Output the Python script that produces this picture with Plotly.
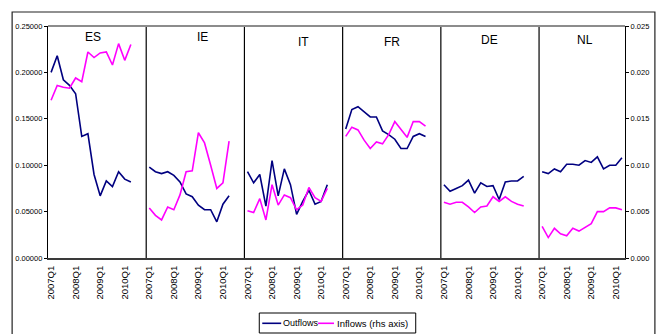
import plotly.graph_objects as go

# Quarterly series, 2007Q1 - 2010Q2
quarters = ["2007Q1", "2007Q2", "2007Q3", "2007Q4",
            "2008Q1", "2008Q2", "2008Q3", "2008Q4",
            "2009Q1", "2009Q2", "2009Q3", "2009Q4",
            "2010Q1", "2010Q2"]

countries = ["ES", "IE", "IT", "FR", "DE", "NL"]

# Outflows (left axis)
outflows_es = [0.200, 0.218, 0.192, 0.186, 0.177, 0.131, 0.134, 0.090, 0.067, 0.083, 0.077, 0.093, 0.085, 0.082]
outflows_ie = [0.098, 0.093, 0.091, 0.093, 0.089, 0.082, 0.069, 0.066, 0.057, 0.052, 0.052, 0.039, 0.058, 0.067]
outflows_it = [0.093, 0.081, 0.090, 0.056, 0.105, 0.067, 0.096, 0.079, 0.047, 0.061, 0.073, 0.058, 0.061, 0.079]
outflows_fr = [0.139, 0.160, 0.163, 0.157, 0.152, 0.152, 0.137, 0.133, 0.128, 0.118, 0.118, 0.131, 0.134, 0.131]
outflows_de = [0.079, 0.072, 0.075, 0.078, 0.084, 0.070, 0.081, 0.077, 0.078, 0.063, 0.082, 0.083, 0.083, 0.088]
outflows_nl = [0.093, 0.091, 0.096, 0.093, 0.101, 0.101, 0.100, 0.105, 0.103, 0.109, 0.096, 0.100, 0.100, 0.108]

# Inflows (right-hand axis)
inflows_es = [0.0170, 0.0186, 0.0184, 0.0183, 0.0194, 0.0190, 0.0222, 0.0216, 0.0221, 0.0222, 0.0208, 0.0231, 0.0213, 0.0230]
inflows_ie = [0.0054, 0.0046, 0.0041, 0.0055, 0.0052, 0.0068, 0.0093, 0.0094, 0.0135, 0.0124, 0.0100, 0.0075, 0.0081, 0.0126]
inflows_it = [0.0051, 0.0049, 0.0064, 0.0041, 0.0079, 0.0057, 0.0068, 0.0065, 0.0052, 0.0057, 0.0076, 0.0065, 0.0061, 0.0075]
inflows_fr = [0.0131, 0.0141, 0.0138, 0.0127, 0.0118, 0.0125, 0.0123, 0.0133, 0.0147, 0.0138, 0.0130, 0.0147, 0.0147, 0.0142]
inflows_de = [0.0060, 0.0058, 0.0060, 0.0060, 0.0055, 0.0049, 0.0055, 0.0056, 0.0066, 0.0061, 0.0066, 0.0061, 0.0058, 0.0056]
inflows_nl = [0.0034, 0.0022, 0.0032, 0.0026, 0.0024, 0.0032, 0.0029, 0.0033, 0.0037, 0.0050, 0.0050, 0.0054, 0.0054, 0.0052]

outflows = [outflows_es, outflows_ie, outflows_it, outflows_fr, outflows_de, outflows_nl]
inflows = [inflows_es, inflows_ie, inflows_it, inflows_fr, inflows_de, inflows_nl]

tick_quarters = ["2007Q1", "2008Q1", "2009Q1", "2010Q1"]

# Layout of the category axis: every country block is 16 slots wide
# (14 quarters plus a 2-slot gap); the last block has no gap.
BLOCK = 16
n_q = len(quarters)
x_max = BLOCK * (len(countries) - 1) + n_q

# Horizontal placement of each panel label (in category units)
title_x = [7.3, 25.1, 41.6, 56.0, 72.0, 87.5]
title_y = [0.953, 0.953, 0.931, 0.931, 0.940, 0.940]

NAVY = "#000080"
MAGENTA = "#FF00FF"
FONT = "Liberation Sans, Arial, sans-serif"

fig = go.Figure()

tickvals, ticktext = [], []
for p, c in enumerate(countries):
    xs = [BLOCK * p + i + 0.5 for i in range(n_q)]
    fig.add_trace(go.Scatter(x=xs, y=outflows[p], mode="lines",
                             line=dict(color=NAVY, width=1.6),
                             name="Outflows", showlegend=False, yaxis="y"))
    fig.add_trace(go.Scatter(x=xs, y=inflows[p], mode="lines",
                             line=dict(color=MAGENTA, width=1.6),
                             name="Inflows (rhs axis)", showlegend=False, yaxis="y2"))
    for q in tick_quarters:
        tickvals.append(BLOCK * p + quarters.index(q) + 0.5)
        ticktext.append(q)

shapes = []
# Panel separators
for p in range(1, len(countries)):
    shapes.append(dict(type="line", xref="x", yref="paper",
                       x0=BLOCK * p, x1=BLOCK * p, y0=0, y1=1,
                       line=dict(color="black", width=1.2)))
# Grey top border of the plot area
shapes.append(dict(type="line", xref="paper", yref="paper", x0=0, x1=1, y0=1, y1=1,
                   line=dict(color="#8c8c8c", width=2)))

# Pixel helpers for the outer frame and legend (plot area 48..627 x 26..258)
def px_x(v):
    return (v - 48) / 579.0


def px_y(v):
    return (258 - v) / 232.0


# Outer chart frame
shapes.append(dict(type="rect", xref="paper", yref="paper",
                   x0=px_x(12), x1=px_x(657), y0=px_y(12), y1=px_y(340),
                   line=dict(color="#222222", width=1.2), fillcolor="rgba(0,0,0,0)"))

# Legend box and line samples
shapes.append(dict(type="rect", xref="paper", yref="paper",
                   x0=px_x(260), x1=px_x(417), y0=px_y(313), y1=px_y(333),
                   line=dict(color="black", width=1), fillcolor="white"))
shapes.append(dict(type="line", xref="paper", yref="paper",
                   x0=px_x(263), x1=px_x(282), y0=px_y(323.3), y1=px_y(323.3),
                   line=dict(color=NAVY, width=1.6)))
shapes.append(dict(type="line", xref="paper", yref="paper",
                   x0=px_x(319), x1=px_x(335), y0=px_y(323.3), y1=px_y(323.3),
                   line=dict(color=MAGENTA, width=1.6)))

annotations = []
for p, c in enumerate(countries):
    annotations.append(dict(text=c, x=title_x[p], y=title_y[p], xref="x", yref="paper",
                            showarrow=False, xanchor="center", yanchor="middle",
                            font=dict(family=FONT, size=12, color="black")))
annotations.append(dict(text="Outflows", x=px_x(282), y=px_y(323.3), xref="paper", yref="paper",
                        showarrow=False, xanchor="left", yanchor="middle",
                        font=dict(family=FONT, size=9, color="black")))
annotations.append(dict(text="Inflows (rhs axis)", x=px_x(335.5), y=px_y(323.3), xref="paper", yref="paper",
                        showarrow=False, xanchor="left", yanchor="middle",
                        font=dict(family=FONT, size=9.5, color="black")))

fig.update_layout(
    width=661, height=334, autosize=False,
    margin=dict(l=48, r=34, t=26, b=76, pad=0),
    paper_bgcolor="white", plot_bgcolor="white",
    showlegend=False,
    font=dict(family=FONT, color="black"),
    xaxis=dict(range=[0, x_max], tickmode="array", tickvals=tickvals, ticktext=ticktext,
               tickangle=-90, ticks="", showgrid=False, zeroline=False,
               showline=True, linecolor="#3a3a3a", linewidth=2,
               ticklabelstandoff=2,
               tickfont=dict(family=FONT, size=9.5, color="black")),
    yaxis=dict(range=[0, 0.25], dtick=0.05, tickformat=".5f", ticks="outside",
               ticklen=3, tickcolor="black", showgrid=False, zeroline=False,
               showline=True, linecolor="black", linewidth=1.2,
               tickfont=dict(family=FONT, size=7.5, color="black")),
    yaxis2=dict(range=[0, 0.025], dtick=0.005, tickformat=".3f", overlaying="y",
                side="right", ticks="outside", ticklen=3, tickcolor="black",
                showgrid=False, zeroline=False, showline=True, linecolor="black",
                linewidth=1.2, tickfont=dict(family=FONT, size=7.5, color="black")),
    shapes=shapes,
    annotations=annotations,
)

fig.write_html("out.html")
